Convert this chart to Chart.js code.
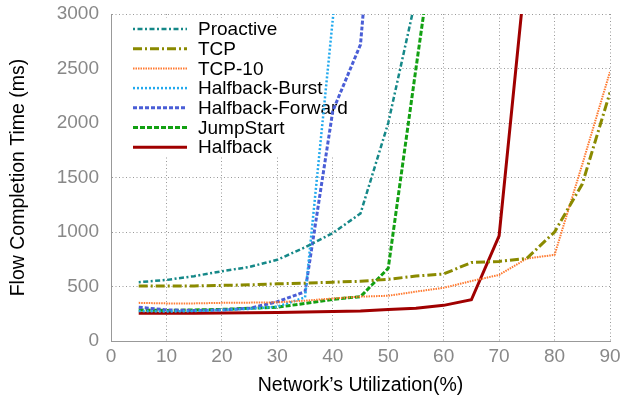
<!DOCTYPE html>
<html>
<head>
<meta charset="utf-8">
<script src="https://cdn.jsdelivr.net/npm/chart.js@4/dist/chart.umd.min.js"></script>
<style>
  html, body { margin: 0; padding: 0; background: #fff; }
  #wrap { width: 626px; height: 401px; }
</style>
</head>
<body>
<div id="wrap"><canvas id="fct"></canvas></div>
<script>
// utilization (%) on the x axis
const utilization = [5, 10, 15, 20, 25, 30, 35, 40, 45, 50, 55, 60, 65, 70, 75, 80, 85, 90];

// flow completion times (ms), series stop once they leave the plot
const proactive = [540, 560, 595, 640, 680, 745, 860, 990, 1170, 2000, 3150];
const tcp = [505, 505, 505, 510, 515, 525, 530, 540, 548, 566, 596, 615, 720, 730, 758, 1000, 1440, 2280];
const tcp10 = [350, 345, 345, 350, 352, 355, 370, 390, 407, 415, 453, 488, 550, 606, 757, 790, 1620, 2470];
const halfbackBurst = [275, 270, 275, 285, 295, 315, 400, 2950, 5500];
const halfbackForward = [310, 285, 280, 285, 300, 360, 452, 2110, 2720, 5700];
const jumpStart = [285, 280, 285, 290, 300, 310, 345, 382, 407, 667, 2500, 4300];
const halfback = [255, 255, 255, 258, 260, 262, 265, 270, 275, 290, 300, 327, 378, 965, 3500];

const xTicks = [0, 10, 20, 30, 40, 50, 60, 70, 80, 90];
const yTicks = [0, 500, 1000, 1500, 2000, 2500, 3000];

const FONT = "'Liberation Sans', Arial, sans-serif";

function pts(values) {
    return values.map((v, i) => ({ x: utilization[i], y: v }));
}

function series(label, values, color, width, dash) {
    return {
        label: label,
        data: pts(values),
        borderColor: color,
        backgroundColor: color,
        borderWidth: width,
        borderDash: dash,
        pointRadius: 0,
        tension: 0,
        fill: false,
        clip: 0
    };
}

// key box drawn in the upper left, under the lines
const keyPlugin = {
    id: "key",
    beforeDatasetsDraw(chart) {
        const ctx = chart.ctx;
        const area = chart.chartArea;
        ctx.save();
        ctx.fillStyle = "#fff";
        ctx.fillRect(area.left + 1, 18, 275, 137);
        ctx.font = "19px " + FONT;
        ctx.textBaseline = "middle";
        chart.data.datasets.forEach((ds, i) => {
            const y = 29 + i * 19.7;
            ctx.strokeStyle = ds.borderColor;
            ctx.lineWidth = ds.borderWidth;
            ctx.setLineDash(ds.borderDash || []);
            ctx.beginPath();
            ctx.moveTo(133, y);
            ctx.lineTo(187, y);
            ctx.stroke();
            ctx.setLineDash([]);
            ctx.fillStyle = "#000";
            ctx.fillText(ds.label, 198, y + 1);
        });
        ctx.restore();
    }
};

const ctx = document.getElementById("fct").getContext("2d");
const chart = new Chart(ctx, {
    type: "line",
    data: {
        datasets: [
            series("Proactive", proactive, "#158888", 2.5, [2, 2.5, 5, 2.5]),
            series("TCP", tcp, "#8a8a00", 3, [9, 3, 2, 3]),
            series("TCP-10", tcp10, "#ff7a30", 2, [1.5, 1]),
            series("Halfback-Burst", halfbackBurst, "#22aaee", 2.5, [2, 2]),
            series("Halfback-Forward", halfbackForward, "#4a5ed6", 3, [4, 2]),
            series("JumpStart", jumpStart, "#12a012", 3, [5, 2]),
            series("Halfback", halfback, "#a00000", 3, [])
        ]
    },
    options: {
        responsive: true,
        maintainAspectRatio: false,
        animation: false,
        layout: { padding: { left: 0, right: 16, top: 14, bottom: 0 } },
        plugins: {
            legend: { display: false },
            tooltip: { enabled: false }
        },
        scales: {
            x: {
                type: "linear",
                min: 0,
                max: 90,
                afterBuildTicks: (s) => { s.ticks = xTicks.map(v => ({ value: v })); },
                afterFit: (s) => { s.height = 60; s.paddingLeft = 0; s.paddingRight = 0; },
                ticks: { color: "#888", font: { family: FONT, size: 19 }, padding: 4, callback: v => String(v) },
                grid: { color: "#999", lineWidth: 1, drawTicks: false },
                border: { display: true, color: "#999", dash: [1, 2.5] },
                title: {
                    display: true,
                    text: "Network’s Utilization(%)",
                    color: "#000",
                    font: { family: FONT, size: 19.5 },
                    padding: { top: 4, bottom: 4 }
                }
            },
            y: {
                min: 0,
                max: 3000,
                afterBuildTicks: (s) => { s.ticks = yTicks.map(v => ({ value: v })); },
                afterFit: (s) => { s.width = 111; s.paddingTop = 0; s.paddingBottom = 0; },
                ticks: { color: "#888", font: { family: FONT, size: 19 }, padding: 12, callback: v => String(v) },
                grid: { color: "#999", lineWidth: 1, drawTicks: false },
                border: { display: true, color: "#999", dash: [1, 2.5] },
                title: {
                    display: true,
                    text: "Flow Completion Time (ms)",
                    color: "#000",
                    font: { family: FONT, size: 19.5 },
                    padding: { top: 7, bottom: 4 }
                }
            }
        }
    },
    plugins: [keyPlugin]
});
</script>
</body>
</html>
